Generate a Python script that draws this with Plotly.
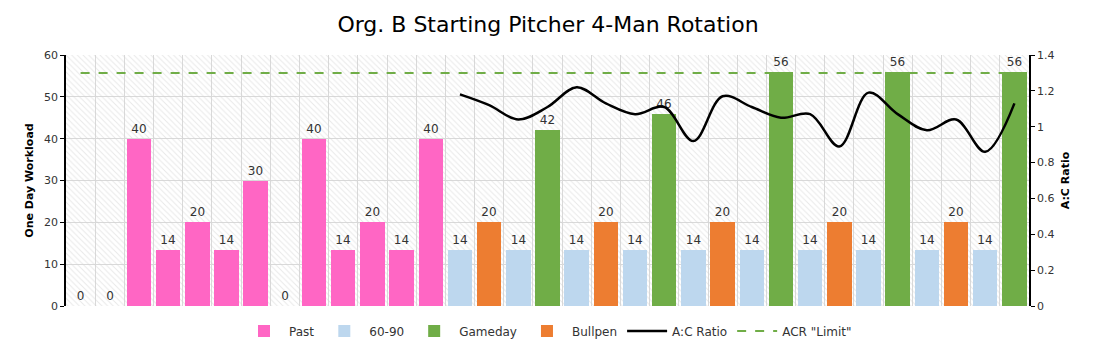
import plotly.graph_objects as go

# ---- data ----
n_days = 33
days = list(range(n_days))
past = [0, 0, 40, 13.5, 20, 13.5, 30, 0, 40, 13.5, 20, 13.5, 40] + [None] * 20
sixty_ninety = [None] * 33
for i in [13, 15, 17, 19, 21, 23, 25, 27, 29, 31]:
    sixty_ninety[i] = 13.5
gameday = [None] * 33
for i, v in [(16, 42), (20, 46), (24, 56), (28, 56), (32, 56)]:
    gameday[i] = v
bullpen = [None] * 33
for i in [14, 18, 22, 26, 30]:
    bullpen[i] = 20
ac_days = list(range(13, 33))
ac_ratio = [1.18, 1.12, 1.04, 1.11, 1.22, 1.13, 1.07, 1.11, 0.92, 1.17,
            1.11, 1.05, 1.07, 0.89, 1.19, 1.07, 0.98, 1.04, 0.86, 1.13]
acr_limit = 1.3
y_max = 60
y2_max = 1.4

FONT = "DejaVu Sans"
TXT = "#333333"
GRID = "#d9d9d9"

fig = go.Figure()

# hatched plot background
fig.add_trace(go.Bar(
    x=[(n_days - 1) / 2], y=[y_max], width=[n_days],
    marker=dict(color="rgba(0,0,0,0)", line=dict(width=0),
                pattern=dict(shape="\\", fgcolor="#d2d2d2", size=4, solidity=0.25)),
    showlegend=False, hoverinfo="skip"))

bar_w = 0.84
series = [("Past", past, "#FF66C4"), ("60-90", sixty_ninety, "#BDD7EE"),
          ("Gameday", gameday, "#70AD47"), ("Bullpen", bullpen, "#ED7D31")]
for rank, (name, vals, col) in enumerate(series):
    fig.add_trace(go.Bar(
        x=days, y=vals, name=name, width=bar_w,
        marker=dict(color=col, line=dict(width=0)),
        texttemplate="%{y:.0f}", textposition="outside", cliponaxis=False,
        textfont=dict(family=FONT, size=12, color=TXT),
        legendrank=rank + 1))

fig.add_trace(go.Scatter(
    x=[0, n_days - 1], y=[acr_limit, acr_limit], name='ACR "Limit"', yaxis="y2",
    mode="lines", line=dict(color="#70AD47", width=2, dash="dash"), legendrank=6))
fig.add_trace(go.Scatter(
    x=ac_days, y=ac_ratio, name="A:C Ratio", yaxis="y2", mode="lines",
    line=dict(color="black", width=2.5, shape="spline", smoothing=1.0), legendrank=5))

fig.update_layout(
    width=1096, height=353,
    margin=dict(l=66, r=67, t=55, b=47, autoexpand=False),
    paper_bgcolor="white", plot_bgcolor="white",
    barmode="overlay", bargap=0,
    font=dict(family=FONT, color=TXT, size=11),
    title=dict(text="Org. B Starting Pitcher 4-Man Rotation", x=0.5, xanchor="center",
               y=0.93, yanchor="middle", font=dict(family=FONT, size=22, color="black")),
    xaxis=dict(range=[-0.5, n_days - 0.5], tickvals=[i - 0.5 for i in range(n_days + 1)],
               showticklabels=False, showgrid=True, gridcolor=GRID, gridwidth=1,
               ticks="", zeroline=False, showline=False),
    yaxis=dict(range=[0, y_max], dtick=10, showgrid=True, gridcolor=GRID, gridwidth=1,
               showline=True, linecolor="black", linewidth=1.5, ticks="outside",
               ticklen=4, tickcolor="black", zeroline=False,
               tickfont=dict(size=11, color=TXT),
               title=dict(text="<b>One Day Workload</b>", font=dict(size=11, color="black"),
                          standoff=8)),
    yaxis2=dict(range=[0, y2_max], dtick=0.2, overlaying="y", side="right",
                showgrid=False, showline=True, linecolor="black", linewidth=1.5,
                ticks="outside", ticklen=4, tickcolor="black", zeroline=False,
                tickfont=dict(size=11, color=TXT),
                title=dict(text="<b>A:C Ratio</b>", font=dict(size=11, color="black"),
                           standoff=8)),
    legend=dict(orientation="h", x=0.5, xanchor="center", xref="container",
                y=1 - 331 / 353, yanchor="middle", yref="container",
                font=dict(family=FONT, size=12, color=TXT), traceorder="normal",
                itemwidth=40),
)

fig.write_html("out.html")
